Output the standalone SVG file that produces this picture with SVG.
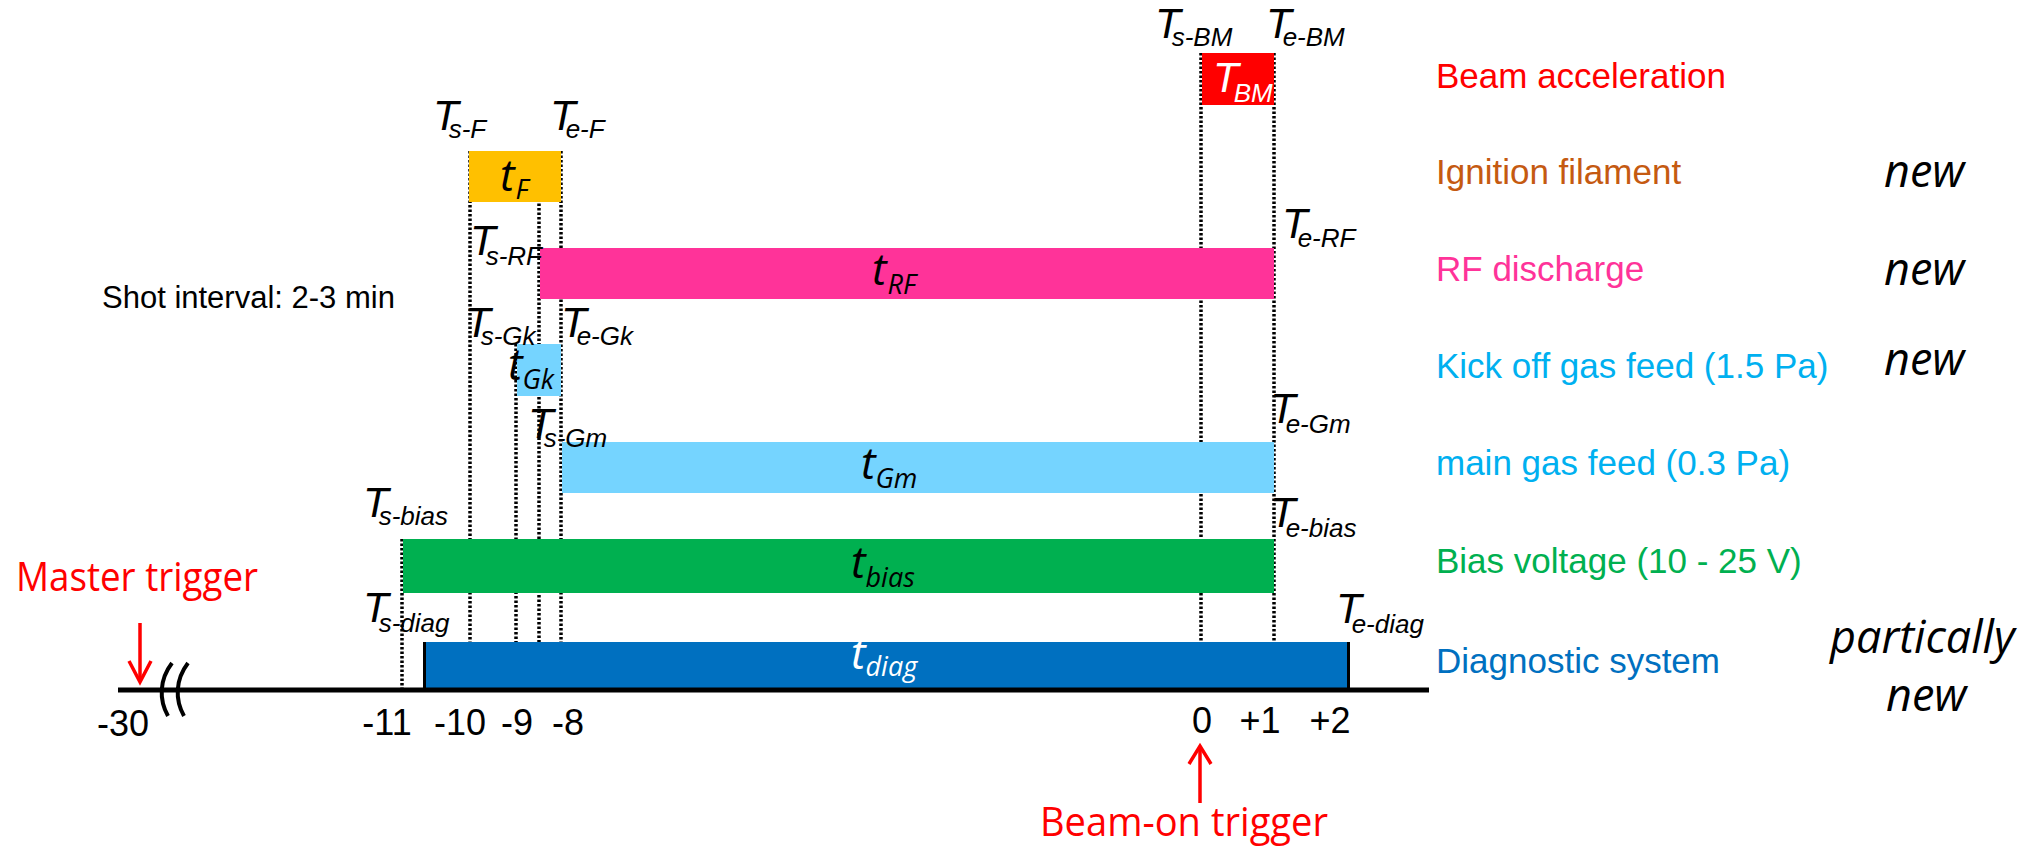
<svg xmlns="http://www.w3.org/2000/svg" width="2023" height="846" viewBox="0 0 2023 846">
<style>
.T{font-family:"Liberation Sans",Arial,sans-serif;font-style:italic;font-size:42px;fill:#000}
.Ts{font-size:26px}
.t{font-family:"Open Sans","Noto Sans",sans-serif;font-style:italic;font-size:44px;fill:#000}
.ts{font-size:27px}
.lab{font-family:"Liberation Sans",Arial,sans-serif;font-size:35px}
.tick{font-family:"Liberation Sans",Arial,sans-serif;font-size:36px;fill:#000;text-anchor:middle}
.new{font-family:"Open Sans","Noto Sans",sans-serif;font-style:italic;font-size:45px;fill:#000}
.trig{font-family:"Open Sans","Noto Sans",sans-serif;font-size:40px;fill:#ff0000}
.dot{stroke:#000;stroke-width:3.5;stroke-dasharray:2.5 2;fill:none}
.arr{stroke:#ff0000;stroke-width:3.5;fill:none}
</style>

<g id="connectors">
<line class="dot" x1="470" y1="151" x2="470" y2="688"/>
<line class="dot" x1="561" y1="151" x2="561" y2="688"/>
<line class="dot" x1="539" y1="199" x2="539" y2="688"/>
<line class="dot" x1="516" y1="344" x2="516" y2="688"/>
<line class="dot" x1="402" y1="539" x2="402" y2="688"/>
<line class="dot" x1="1201" y1="53" x2="1201" y2="688"/>
<line class="dot" x1="1274" y1="53" x2="1274" y2="688"/>
</g>

<g id="bar-bm"><rect x="1202" y="53" width="72" height="52" fill="#ff0000"/>
<text x="1213" y="92" class="T" style="fill:#fff">T<tspan class="Ts" dx="-5" dy="10">BM</tspan></text></g>
<g id="bar-f"><rect x="469" y="151" width="92" height="51" fill="#ffc000"/>
<text x="500" y="191" class="t">t<tspan class="ts" dx="1" dy="8">F</tspan></text></g>
<g id="bar-rf"><rect x="540" y="248" width="734" height="51" fill="#ff3399"/>
<text x="872" y="285" class="t">t<tspan class="ts" dx="1" dy="9">RF</tspan></text></g>
<g id="bar-gk"><rect x="517" y="344" width="44" height="52" fill="#75d4ff"/>
<text x="508" y="380" class="t">t<tspan class="ts" dx="0" dy="9">Gk</tspan></text></g>
<g id="bar-gm"><rect x="562" y="442" width="712" height="51" fill="#75d4ff"/>
<text x="861" y="479" class="t">t<tspan class="ts" dx="0" dy="9">Gm</tspan></text></g>
<g id="bar-bias"><rect x="403" y="539" width="871" height="54" fill="#00b050"/>
<text x="851" y="578" class="t">t<tspan class="ts" dx="0" dy="9">bias</tspan></text></g>
<g id="bar-diag"><rect x="424" y="642" width="925" height="47" fill="#0070c0"/>
<line x1="424.5" y1="642" x2="424.5" y2="690" stroke="#000" stroke-width="3"/>
<line x1="1348.5" y1="642" x2="1348.5" y2="690" stroke="#000" stroke-width="3"/>
<text x="851" y="669" class="t" style="fill:#fff">t<tspan class="ts" dx="0" dy="7">diag</tspan></text></g>

<g id="axis">
<line x1="118" y1="690" x2="1429" y2="690" stroke="#000" stroke-width="5"/>
<path d="M172,663 C159,680 159,700 168,716" stroke="#000" stroke-width="4" fill="none"/>
<path d="M188,663 C175,680 175,700 184,716" stroke="#000" stroke-width="4" fill="none"/>
<text x="123" y="736" class="tick">-30</text>
<text x="387" y="735" class="tick">-11</text>
<text x="460" y="735" class="tick">-10</text>
<text x="517" y="735" class="tick">-9</text>
<text x="568" y="735" class="tick">-8</text>
<text x="1202" y="733" class="tick">0</text>
<text x="1260" y="733" class="tick">+1</text>
<text x="1330" y="733" class="tick">+2</text>
</g>

<g id="time-labels">
<text x="1155" y="38" class="T">T<tspan class="Ts" dx="-9" dy="8">s-BM</tspan></text>
<text x="1266" y="38" class="T">T<tspan class="Ts" dx="-9" dy="8">e-BM</tspan></text>
<text x="433" y="130" class="T">T<tspan class="Ts" dx="-10" dy="8">s-F</tspan></text>
<text x="550" y="130" class="T">T<tspan class="Ts" dx="-10" dy="8">e-F</tspan></text>
<text x="470" y="255" class="T">T<tspan class="Ts" dx="-10" dy="10">s-RF</tspan></text>
<text x="1282" y="238" class="T">T<tspan class="Ts" dx="-10" dy="9">e-RF</tspan></text>
<text x="465" y="337" class="T">T<tspan class="Ts" dx="-10" dy="8">s-Gk</tspan></text>
<text x="561" y="337" class="T">T<tspan class="Ts" dx="-10" dy="8">e-Gk</tspan></text>
<text x="528" y="438" class="T">T<tspan class="Ts" dx="-10" dy="9">s-Gm</tspan></text>
<text x="1270" y="423" class="T">T<tspan class="Ts" dx="-10" dy="10">e-Gm</tspan></text>
<text x="363" y="517" class="T">T<tspan class="Ts" dx="-10" dy="8">s-bias</tspan></text>
<text x="1270" y="527" class="T">T<tspan class="Ts" dx="-10" dy="10">e-bias</tspan></text>
<text x="363" y="622" class="T">T<tspan class="Ts" dx="-10" dy="10">s-diag</tspan></text>
<text x="1336" y="623" class="T">T<tspan class="Ts" dx="-10" dy="10">e-diag</tspan></text>
</g>

<g id="row-labels">
<text x="1436" y="88" class="lab" fill="#ff0000">Beam acceleration</text>
<text x="1436" y="184" class="lab" fill="#c55a11">Ignition filament</text>
<text x="1436" y="281" class="lab" fill="#ff3399">RF discharge</text>
<text x="1436" y="378" class="lab" fill="#00b0f0">Kick off gas feed (1.5 Pa)</text>
<text x="1436" y="475" class="lab" fill="#00b0f0">main gas feed (0.3 Pa)</text>
<text x="1436" y="573" class="lab" fill="#00b050">Bias voltage (10 - 25 V)</text>
<text x="1436" y="673" class="lab" fill="#0070c0">Diagnostic system</text>
</g>

<g id="new-labels">
<text x="1884" y="187" class="new">new</text>
<text x="1884" y="285" class="new">new</text>
<text x="1884" y="375" class="new">new</text>
<text x="1830" y="653" class="new">partically</text>
<text x="1886" y="711" class="new">new</text>
</g>

<g id="shot-interval">
<text x="102" y="308" class="lab" style="font-size:31px" fill="#000">Shot interval: 2-3 min</text>
</g>

<g id="master-trigger">
<text x="16" y="591" class="trig" textLength="242" lengthAdjust="spacingAndGlyphs">Master trigger</text>
<line class="arr" x1="140" y1="623" x2="140" y2="681"/>
<polyline class="arr" points="129,661 140,682 151,661"/>
</g>

<g id="beam-on-trigger">
<line class="arr" x1="1200" y1="747" x2="1200" y2="803"/>
<polyline class="arr" points="1189,764 1200,746 1211,764"/>
<text x="1040" y="836" class="trig" textLength="288" lengthAdjust="spacingAndGlyphs">Beam-on trigger</text>
</g>
</svg>
